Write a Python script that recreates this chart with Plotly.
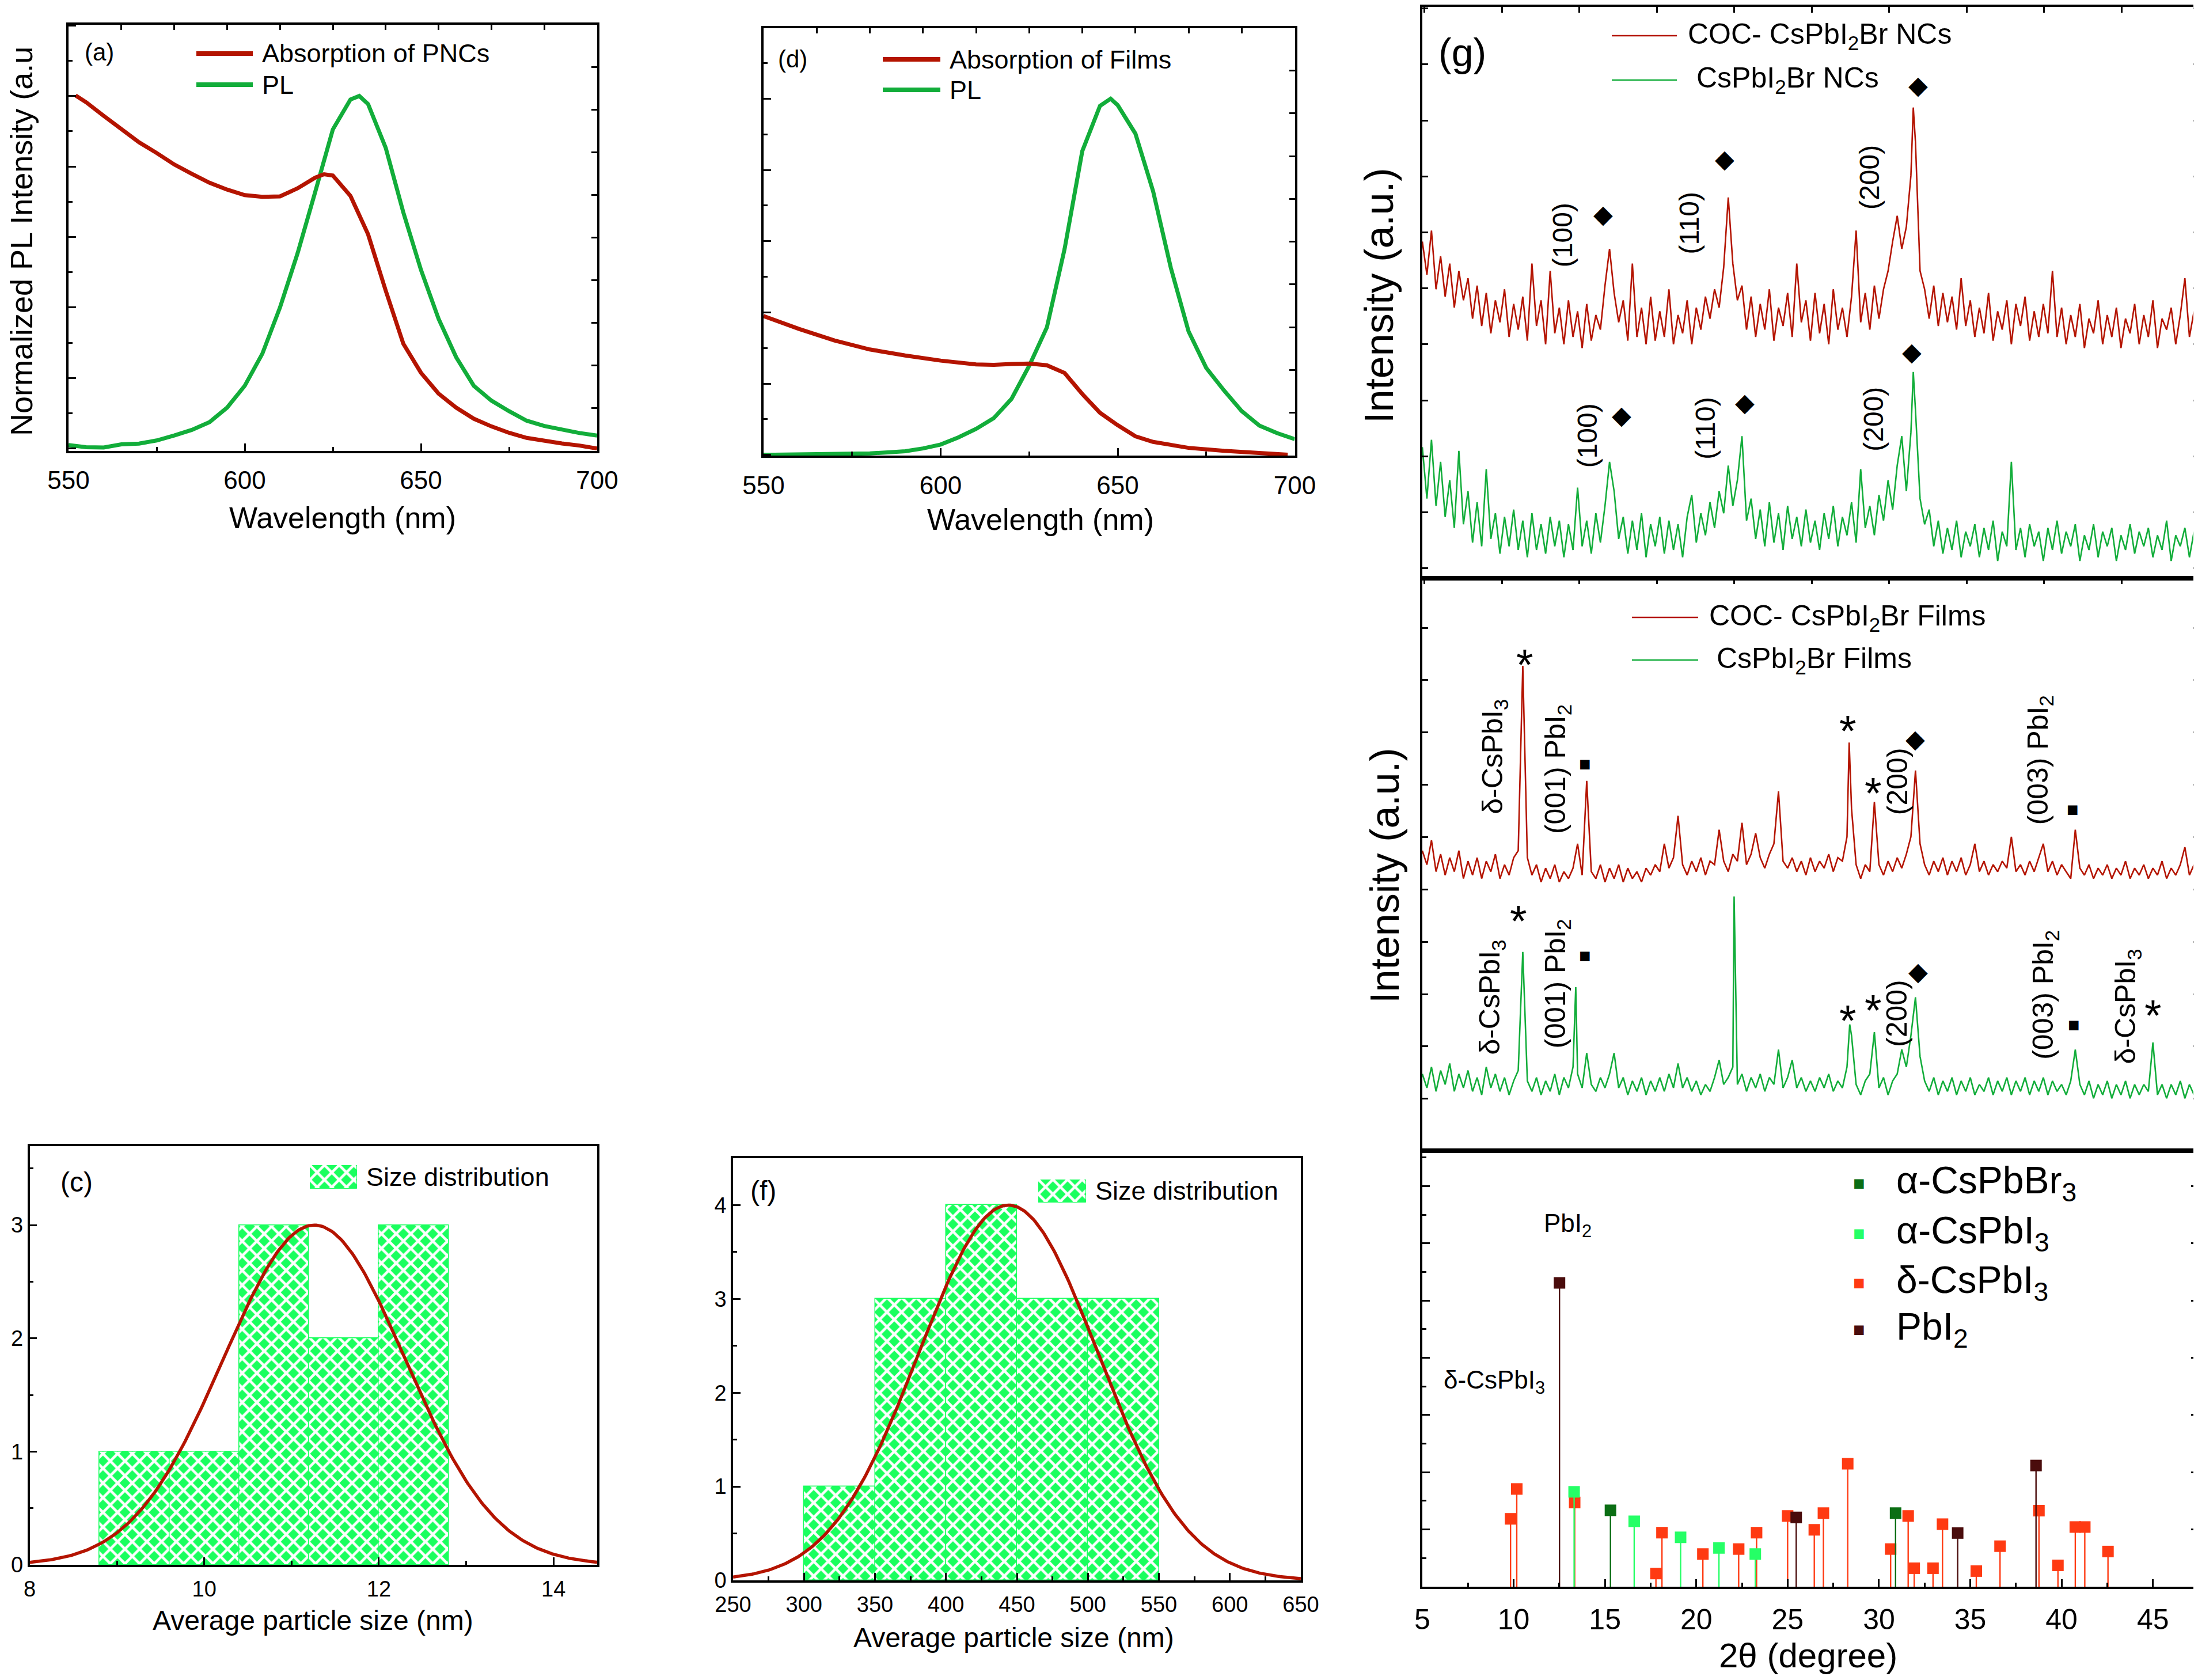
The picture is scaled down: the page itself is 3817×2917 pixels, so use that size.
import numpy as np
import plotly.graph_objects as go

W, H = 3817, 2917
FONT = "Liberation Sans, Arial, Helvetica, sans-serif"
RED = "#b41400"
GREEN = "#12ad3a"
BAR_GREEN = "#1aff5e"

# ---------------- (a) PNCs : absorption + PL ----------------
pnc_abs_nm = [552, 555, 560, 565, 570, 575, 580, 585, 590, 595, 600, 605, 610, 615, 620, 622.5,
              625, 630, 635, 640, 645, 650, 655, 660, 665, 670, 675, 680, 685, 690, 695, 700]
pnc_abs = [0.834, 0.818, 0.786, 0.756, 0.724, 0.699, 0.672, 0.650, 0.629, 0.613, 0.600, 0.596,
           0.597, 0.616, 0.641, 0.649, 0.646, 0.598, 0.508, 0.376, 0.251, 0.183, 0.134, 0.101,
           0.075, 0.057, 0.042, 0.030, 0.023, 0.017, 0.012, 0.005]
pnc_pl_nm = [550, 555, 560, 565, 570, 575, 580, 585, 590, 595, 600, 605, 610, 615, 620, 625, 630,
             632.5, 635, 640, 645, 650, 655, 660, 665, 670, 675, 680, 685, 690, 695, 700]
pnc_pl = [0.010, 0.004, 0.003, 0.012, 0.014, 0.023, 0.037, 0.053, 0.075, 0.116, 0.178, 0.269,
          0.400, 0.554, 0.728, 0.905, 0.990, 1.000, 0.977, 0.853, 0.670, 0.507, 0.368, 0.259,
          0.178, 0.136, 0.106, 0.079, 0.064, 0.054, 0.044, 0.037]

# ---------------- (d) Films : absorption + PL ----------------
film_abs_nm = [550, 560, 570, 580, 590, 600, 610, 615, 620, 625, 630, 635, 640, 645, 650, 655,
               660, 670, 680, 690, 698]
film_abs = [0.326, 0.296, 0.269, 0.248, 0.234, 0.222, 0.213, 0.212, 0.214, 0.215, 0.211, 0.193,
            0.144, 0.100, 0.071, 0.045, 0.032, 0.018, 0.011, 0.006, 0.002]
film_pl_nm = [550, 560, 570, 580, 585, 590, 595, 600, 605, 610, 615, 620, 625, 630, 635, 640,
              645, 648, 650, 655, 660, 665, 670, 675, 680, 685, 690, 695, 700]
film_pl = [0.000, 0.001, 0.002, 0.004, 0.007, 0.010, 0.018, 0.029, 0.049, 0.073, 0.103, 0.157,
           0.250, 0.358, 0.578, 0.853, 0.980, 1.000, 0.982, 0.902, 0.740, 0.525, 0.347, 0.244,
           0.181, 0.123, 0.082, 0.061, 0.044]

# ---------------- (c) / (f) size histograms ----------------
pnc_bin_centers = [9.2, 10.0, 10.8, 11.6, 12.4]
pnc_bin_width = 0.8
pnc_counts = [1, 1, 3, 2, 3]
pnc_fit = {"mean": 11.26, "sigma": 1.04, "amp": 3.0}

film_bin_centers = [325, 375, 425, 475, 525]
film_bin_width = 50
film_counts = [1, 3, 4, 3, 3]
film_fit = {"mean": 444, "sigma": 63, "amp": 4.0}

# ---------------- (g) XRD scans, 2theta step 0.25 from 5 deg ----------------
TT_START, TT_STEP = 5.0, 0.25
nc_coc = [92, 83, 95, 79, 88,
          77, 86, 74, 84, 76, 82, 71, 80,
          69, 78, 67, 76, 70, 79, 66, 75,
          68, 77, 65, 86, 69, 76, 64, 84,
          67, 74, 64, 76, 66, 73, 63, 75,
          65, 72, 68, 80,
          90, 78, 70, 76, 65, 86, 66, 74, 64, 77, 65, 73, 66, 79, 64, 72, 67, 76, 64, 74,
          68, 77, 71, 79, 74, 85, 104, 86, 76, 80, 68, 77, 66, 75, 68, 79, 65, 74, 69, 78,
          66, 86, 70, 76, 65, 78, 67, 75, 64, 79, 68, 74, 66, 77, 95, 70, 78, 68, 80, 71,
          79, 84, 92, 99, 90, 96, 110, 119, 84, 79, 71, 80, 69, 78, 70, 77, 68, 82, 69, 76,
          66, 74, 67, 78, 65, 73, 68, 76, 64, 75, 69, 77, 65, 73, 66, 75, 67, 84, 66, 74,
          64, 72, 66, 75, 63, 71, 67, 76, 64, 72, 66, 74, 63, 71, 67, 75, 64, 72, 66, 76,
          63, 71, 68, 74, 64, 72, 82, 66, 73, 67]
nc_coc_peaks = [(31.88, 128.5)]
nc_bare = [36, 22, 38, 20, 32,
           17, 27, 14, 35, 15, 24, 10, 21,
           9, 30, 11, 18, 7, 17, 9, 19,
           8, 16, 6, 18, 8, 15, 7, 17,
           9, 16, 6, 15, 8, 25, 9, 16,
           7, 18, 10, 20,
           32, 24, 11, 17, 7, 16, 8, 18, 6, 15, 9, 17, 7, 16, 8, 15, 6, 17, 23, 10,
           18, 12, 21, 14, 24, 18, 31, 20, 27, 39, 16, 22, 11, 19, 9, 21, 10, 18, 8, 20,
           11, 17, 9, 19, 10, 16, 8, 18, 11, 20, 9, 17, 12, 21, 10, 30, 14, 20, 12, 23,
           16, 27, 19, 31, 39, 24, 40, 46, 22, 15, 19, 9, 16, 7, 14, 8, 16, 6, 13, 9,
           15, 6, 14, 8, 16, 5, 13, 9, 32, 8, 14, 6, 15, 9, 13, 5, 14, 8, 16, 7,
           13, 9, 15, 5, 12, 8, 15, 6, 13, 9, 14, 5, 12, 8, 15, 7, 13, 9, 14, 6,
           12, 8, 16, 5, 12, 9, 14, 6, 13, 8]
nc_bare_peaks = [(31.88, 56.5)]
film_coc = [86, 82, 89, 80, 85,
            79, 84, 80, 86, 78, 83, 79, 84,
            78, 83, 80, 85, 78, 82, 79, 84,
            86, 139, 84, 79, 82, 77, 81, 78,
            82, 77, 80, 78, 81, 88, 79, 106,
            80, 78, 82, 77,
            81, 78, 82, 77, 81, 78, 80, 77, 81, 79, 82, 80, 88, 81, 84, 96, 82, 79, 83, 80,
            84, 79, 83, 82, 92, 83, 80, 85, 83, 94, 82, 85, 91, 84, 81, 85, 88, 103, 83, 81,
            84, 80, 83, 79, 84, 80, 83, 81, 85, 80, 84, 83, 90, 98, 82, 78, 82, 80, 100, 82,
            79, 83, 80, 84, 81, 85, 90, 109, 88, 82, 79, 83, 80, 84, 79, 83, 80, 84, 79, 82,
            88, 80, 83, 79, 82, 80, 83, 81, 90, 80, 82, 79, 83, 80, 84, 88, 80, 83, 79, 82,
            80, 78, 92, 81, 79, 82, 78, 81, 79, 82, 78, 81, 79, 83, 78, 81, 79, 82, 78, 81,
            79, 83, 78, 81, 79, 82, 87, 79, 82, 80]
film_coc_peaks = [(28.37, 117.0)]
film_bare = [22, 18, 24, 17, 23,
             19, 25, 17, 22, 18, 23, 17, 21,
             16, 24, 18, 22, 17, 21, 16, 20,
             23, 57, 20, 17, 21, 16, 20, 17,
             22, 16, 21, 18, 24, 22, 18, 28,
             19, 17, 21, 18,
             22, 28, 18, 21, 16, 20, 17, 21, 16, 20, 17, 21, 17, 22, 18, 25, 18, 21, 17, 20,
             16, 19, 17, 21, 26, 19, 21, 24, 19, 22, 17, 21, 18, 22, 17, 21, 19, 29, 18, 21,
             26, 18, 21, 17, 20, 17, 21, 18, 22, 17, 20, 18, 24, 33, 19, 16, 20, 22, 34, 18,
             21, 16, 20, 22, 29, 24, 33, 44, 27, 20, 17, 21, 16, 20, 17, 21, 16, 20, 17, 21,
             16, 19, 17, 21, 16, 20, 17, 21, 16, 20, 17, 21, 16, 20, 17, 21, 16, 20, 17, 19,
             16, 20, 29, 19, 16, 20, 15, 19, 16, 20, 15, 19, 16, 20, 15, 19, 16, 19, 17, 31,
             16, 19, 15, 19, 16, 20, 15, 19, 16, 19]
film_bare_peaks = [(13.4, 46.9), (22.07, 72.9), (28.4, 36.2)]

# reference patterns (stick positions / relative heights)
ref_delta_i3_tt = [9.83, 10.17, 13.34, 17.79, 18.12, 20.36, 22.32, 23.30, 25.00, 26.46, 26.96,
                   28.29, 30.64, 31.60, 31.93, 32.96, 33.48, 35.33, 36.63, 38.76, 39.80, 40.75,
                   41.27, 42.54]
ref_delta_i3_int = [11.86, 17.08, 14.72, 2.30, 9.44, 5.71, 6.58, 9.44, 12.36, 9.94, 12.86, 21.49,
                    6.58, 12.36, 3.23, 3.23, 10.93, 2.73, 7.08, 13.29, 3.73, 10.43, 10.43, 6.15]
ref_alpha_i3_tt = [13.31, 16.60, 19.14, 21.24, 23.23]
ref_alpha_i3_int = [16.58, 11.43, 8.63, 6.77, 5.71]
ref_alpha_br3_tt = [15.30, 30.91]
ref_alpha_br3_int = [13.35, 12.86]
ref_pbi2_tt = [12.51, 25.47, 34.31, 38.60]
ref_pbi2_int = [53.1, 12.11, 9.38, 21.18]


def px(x):
    return x / W


def py(y):
    return 1 - y / H


def scan(values, peaks):
    pts = [(TT_START + TT_STEP * i, v) for i, v in enumerate(values)] + list(peaks)
    pts.sort()
    return [p[0] for p in pts], [p[1] for p in pts]


def gauss_curve(fit, lo, hi):
    x = np.linspace(lo, hi, 300)
    return x, fit["amp"] * np.exp(-(x - fit["mean"]) ** 2 / (2 * fit["sigma"] ** 2))


def axis(**kw):
    d = dict(showline=True, linecolor="black", linewidth=3.5, ticks="inside", tickcolor="black",
             tickwidth=3, ticklen=13, showgrid=False, zeroline=False, automargin=False,
             tickfont=dict(family=FONT, size=44, color="black"))
    d.update(kw)
    return d


def minor(dt, ln=7):
    return dict(dtick=dt, ticks="inside", ticklen=ln, tickwidth=3, tickcolor="black", showgrid=False)


fig = go.Figure()

# (a)
fig.add_trace(go.Scatter(x=pnc_pl_nm, y=pnc_pl, mode="lines", line=dict(color=GREEN, width=7),
                         xaxis="x", yaxis="y"))
fig.add_trace(go.Scatter(x=pnc_abs_nm, y=pnc_abs, mode="lines", line=dict(color=RED, width=7),
                         xaxis="x2", yaxis="y2"))
# (d)
fig.add_trace(go.Scatter(x=film_pl_nm, y=film_pl, mode="lines", line=dict(color=GREEN, width=7),
                         xaxis="x3", yaxis="y3"))
fig.add_trace(go.Scatter(x=film_abs_nm, y=film_abs, mode="lines", line=dict(color=RED, width=7),
                         xaxis="x4", yaxis="y4"))

pattern = dict(shape="x", fgcolor="white", bgcolor=BAR_GREEN, size=18, solidity=0.45)
# (c)
fig.add_trace(go.Bar(x=pnc_bin_centers, y=pnc_counts, width=pnc_bin_width,
                     marker=dict(color=BAR_GREEN, pattern=pattern, line=dict(color=BAR_GREEN, width=1.5)),
                     xaxis="x5", yaxis="y5"))
gx, gy = gauss_curve(pnc_fit, 8, 14.5)
fig.add_trace(go.Scatter(x=gx, y=gy, mode="lines", line=dict(color=RED, width=5.5), xaxis="x5", yaxis="y5"))
# (f)
fig.add_trace(go.Bar(x=film_bin_centers, y=film_counts, width=film_bin_width,
                     marker=dict(color=BAR_GREEN, pattern=pattern, line=dict(color=BAR_GREEN, width=1.5)),
                     xaxis="x6", yaxis="y6"))
gx, gy = gauss_curve(film_fit, 250, 650)
fig.add_trace(go.Scatter(x=gx, y=gy, mode="lines", line=dict(color=RED, width=5.5), xaxis="x6", yaxis="y6"))
# legend swatches for the histograms
for xa, ya in (("x11", "y11"), ("x12", "y12")):
    fig.add_trace(go.Bar(x=[0.5], y=[1], width=1,
                         marker=dict(color=BAR_GREEN, pattern=pattern, line=dict(color=BAR_GREEN, width=1)),
                         xaxis=xa, yaxis=ya))

# (g) XRD
for vals, pk, col, xa, ya in ((nc_coc, nc_coc_peaks, RED, "x7", "y7"),
                              (nc_bare, nc_bare_peaks, GREEN, "x7", "y7"),
                              (film_coc, film_coc_peaks, RED, "x8", "y8"),
                              (film_bare, film_bare_peaks, GREEN, "x8", "y8")):
    sx, sy = scan(vals, pk)
    fig.add_trace(go.Scatter(x=sx, y=sy, mode="lines", line=dict(color=col, width=2.6),
                             xaxis=xa, yaxis=ya))

ref_sets = [(ref_delta_i3_tt, ref_delta_i3_int, "#ff3a12"),
            (ref_alpha_i3_tt, ref_alpha_i3_int, "#25ff66"),
            (ref_alpha_br3_tt, ref_alpha_br3_int, "#0b6e14"),
            (ref_pbi2_tt, ref_pbi2_int, "#4a0c0c")]
for tt, inten, col in ref_sets:
    lx, ly = [], []
    for t, v in zip(tt, inten):
        lx += [t, t, None]
        ly += [0, v, None]
    fig.add_trace(go.Scatter(x=lx, y=ly, mode="lines", line=dict(color=col, width=2.4),
                             xaxis="x9", yaxis="y9"))
    fig.add_trace(go.Scatter(x=tt, y=inten, mode="markers",
                             marker=dict(symbol="square", size=20, color=col),
                             xaxis="x9", yaxis="y9"))

# ---------------- axes ----------------
G_LEFT, G_RIGHT = 2462, 3810
GX = [px(G_LEFT), px(G_RIGHT)]
SMALL = dict(family=FONT, size=38, color="black")
lay = dict(
    xaxis=axis(domain=[px(111), px(1029)], anchor="y", range=[550, 700], tick0=550, dtick=50,
               minor=minor(25), ticklabelstandoff=10),
    xaxis2=axis(overlaying="x", side="top", anchor="y", range=[550, 700], tick0=550, dtick=15,
                ticklen=9, showticklabels=False),
    yaxis=axis(domain=[py(774.5), py(35)], anchor="x", range=[-0.006, 1.202], tick0=0, dtick=0.2,
               minor=minor(0.1), showticklabels=False),
    yaxis2=axis(overlaying="y", side="right", anchor="x", range=[0, 1.0], tick0=0, dtick=0.1,
                ticklen=10, showticklabels=False),
    xaxis3=axis(domain=[px(1318), px(2240.5)], anchor="y3", range=[550, 700], tick0=550, dtick=50,
                minor=minor(25), ticklabelstandoff=10),
    xaxis4=axis(overlaying="x3", side="top", anchor="y3", range=[550, 700], tick0=550, dtick=15,
                ticklen=9, showticklabels=False),
    yaxis3=axis(domain=[py(783), py(41)], anchor="x3", range=[-0.002, 1.198], tick0=0, dtick=0.2,
                minor=minor(0.1), showticklabels=False),
    yaxis4=axis(overlaying="y3", side="right", anchor="x3", range=[0, 0.999], tick0=0, dtick=0.1,
                ticklen=10, showticklabels=False),
    xaxis5=axis(domain=[px(43.5), px(1029)], anchor="y5", range=[8, 14.5], tick0=8, dtick=2,
                minor=minor(1), mirror=True, tickfont=SMALL, ticklabelstandoff=6),
    yaxis5=axis(domain=[py(2709), py(1981.5)], anchor="x5", range=[0, 3.7], tick0=0, dtick=1,
                minor=minor(0.5), mirror=True, tickfont=SMALL),
    xaxis6=axis(domain=[px(1265), px(2251)], anchor="y6", range=[250, 650], tick0=250, dtick=50,
                minor=minor(25), mirror=True, tickfont=SMALL, ticklabelstandoff=6),
    yaxis6=axis(domain=[py(2736), py(2003)], anchor="x6", range=[0, 4.5], tick0=0, dtick=1,
                minor=minor(0.5), mirror=True, tickfont=SMALL),
    xaxis7=axis(domain=GX, anchor="y7", side="top", range=[5, 47.5], tick0=5.12, dtick=4.24,
                ticklen=10, mirror=True, linewidth=4, showticklabels=False),
    yaxis7=axis(domain=[py(996), py(4)], anchor="x7", range=[0.3, 155.9], tick0=3, dtick=15.25,
                ticklen=10, mirror="ticks", linewidth=4, showticklabels=False),
    xaxis8=axis(domain=GX, anchor="y8", side="top", range=[5, 47.5], tick0=5.12, dtick=4.24,
                ticklen=10, mirror=True, linewidth=4, showticklabels=False),
    yaxis8=axis(domain=[py(1990), py(996)], anchor="x8", range=[0, 164.1], tick0=-0.1, dtick=15,
                ticklen=10, mirror="ticks", linewidth=4, showticklabels=False),
    xaxis9=axis(domain=GX, anchor="y9", range=[5, 47.5], tick0=5, dtick=5, minor=minor(2.5),
                mirror=True, linewidth=4, tickfont=dict(family=FONT, size=50, color="black"),
                ticklabelstandoff=10),
    yaxis9=axis(domain=[py(2747), py(1990)], anchor="x9", range=[0, 76.2], tick0=0, dtick=10,
                minor=minor(5), ticklen=13, mirror="ticks", linewidth=4, showticklabels=False),
    xaxis11=dict(domain=[px(530), px(612)], anchor="y11", range=[0, 1], visible=False, automargin=False),
    yaxis11=dict(domain=[py(2056), py(2015)], anchor="x11", range=[0, 1], visible=False, automargin=False),
    xaxis12=dict(domain=[px(1795), px(1878)], anchor="y12", range=[0, 1], visible=False, automargin=False),
    yaxis12=dict(domain=[py(2080), py(2040)], anchor="x12", range=[0, 1], visible=False, automargin=False),
)

# ---------------- text ----------------
ann = []


def txt(text, x, y, size, xref="paper", yref="paper", xanchor="center", yanchor="middle",
        angle=0, color="black", yshift=0):
    ann.append(dict(text=text, x=x, y=y, xref=xref, yref=yref, xanchor=xanchor, yanchor=yanchor,
                    textangle=angle, showarrow=False, yshift=yshift,
                    font=dict(family=FONT, size=size, color=color)))


# panel letters / axis titles
txt("(a)", px(137), py(82), 42, xanchor="left")
txt("(d)", px(1341), py(94), 42, xanchor="left")
txt("(c)", px(95), py(2044), 48, xanchor="left")
txt("(f)", px(1293), py(2059), 48, xanchor="left")
txt("(g)", px(2488), py(83), 68, xanchor="left")
txt("Normalized PL Intensity (a.u", px(29), py(411), 54, angle=-90)
txt("Wavelength (nm)", px(587), py(891), 52)
txt("Wavelength (nm)", px(1799), py(894), 52)
txt("Average particle size (nm)", px(535), py(2805), 48)
txt("Average particle size (nm)", px(1752), py(2835), 48)
txt("2θ (degree)", px(3132), py(2866), 60)
txt("Intensity (a.u.)", px(2387), py(505), 70, angle=-90)
txt("Intensity (a.u.)", px(2397), py(1512), 70, angle=-90)

# legends drawn by hand
shapes = []


def leg_line(x0, x1, y, color, width):
    shapes.append(dict(type="line", xref="paper", yref="paper", x0=px(x0), x1=px(x1),
                       y0=py(y), y1=py(y), line=dict(color=color, width=width)))


# right-hand frame edge of the reference-pattern panel
shapes.append(dict(type="line", xref="paper", yref="paper", x0=px(G_RIGHT - 3), x1=px(G_RIGHT - 3),
                   y0=py(2749), y1=py(1988), line=dict(color="black", width=5), layer="above"))

leg_line(333, 431, 85, RED, 8)
leg_line(333, 431, 139, GREEN, 8)
txt("Absorption of PNCs", px(445), py(85), 45, xanchor="left")
txt("PL", px(445), py(139), 45, xanchor="left")
leg_line(1525, 1625, 95, RED, 8)
leg_line(1525, 1625, 148, GREEN, 8)
txt("Absorption of Films", px(1639), py(95), 45, xanchor="left")
txt("PL", px(1639), py(148), 45, xanchor="left")
txt("Size distribution", px(626), py(2035), 45, xanchor="left")
txt("Size distribution", px(1892), py(2059), 45, xanchor="left")

leg_line(2791, 2904, 54, RED, 2.5)
leg_line(2791, 2904, 131, GREEN, 2.5)
txt("COC- CsPbI<sub>2</sub>Br NCs", px(2921), py(54), 50, xanchor="left")
txt("CsPbI<sub>2</sub>Br NCs", px(2936), py(131), 50, xanchor="left")
leg_line(2826, 2941, 1064, RED, 2.5)
leg_line(2826, 2941, 1138, GREEN, 2.5)
txt("COC- CsPbI<sub>2</sub>Br Films", px(2958), py(1064), 50, xanchor="left")
txt("CsPbI<sub>2</sub>Br Films", px(2971), py(1138), 50, xanchor="left")

# NC XRD labels
for s, x, y in (("(100)", 12.68, 93.7), ("(110)", 19.6, 97), ("(200)", 29.5, 109.5),
                ("(100)", 14.06, 39.2), ("(110)", 20.5, 41.2), ("(200)", 29.7, 43.7)):
    txt(s, x, y, 48, xref="x7", yref="y7", angle=-90)
for x, y in ((14.9, 99.5), (21.55, 114.5), (32.15, 134.7), (15.9, 44.7), (22.65, 48.2), (31.8, 62)):
    txt("◆", x, y, 44, xref="x7", yref="y7")

# Film XRD labels
D3 = "δ-CsPbI<sub>3</sub>"
P2 = "(001) PbI<sub>2</sub>"
P3 = "(003) PbI<sub>2</sub>"
for s, x, y in ((D3, 8.95, 113), (P2, 12.4, 109.4), ("(200)", 31.0, 105.9), (P3, 38.8, 111.9),
                (D3, 8.8, 43.9), (P2, 12.4, 47.9), ("(200)", 31.0, 39.4), (P3, 39.1, 44.7),
                (D3, 43.6, 41.4)):
    txt(s, x, y, 50, xref="x8", yref="y8", angle=-90)
for x, y in ((10.6, 142.4), (28.3, 123.4), (29.7, 105.6), (10.28, 68.9), (28.3, 40.4),
             (29.7, 43.4), (45.0, 41.9)):
    txt("*", x, y, 76, xref="x8", yref="y8", yshift=-18)
for x, y in ((13.9, 111), (40.6, 97.9), (13.9, 55.9), (40.66, 36.2)):
    txt("■", x, y, 34, xref="x8", yref="y8")
for x, y in ((32.0, 118.2), (32.15, 51.4)):
    txt("◆", x, y, 44, xref="x8", yref="y8")

# reference panel labels + legend
txt("PbI<sub>2</sub>", 12.96, 63.2, 44, xref="x9", yref="y9")
txt("δ-CsPbI<sub>3</sub>", 8.95, 35.8, 44, xref="x9", yref="y9")
ref_names = ["α-CsPbBr<sub>3</sub>", "α-CsPbI<sub>3</sub>", "δ-CsPbI<sub>3</sub>", "PbI<sub>2</sub>"]
ref_cols = ["#0b6e14", "#25ff66", "#ff3a12", "#4a0c0c"]
for name, col, y in zip(ref_names, ref_cols, (70.6, 61.8, 53.1, 45.0)):
    txt("■", 28.9, y, 34, xref="x9", yref="y9", color=col)
    txt(name, 30.9, y, 66, xref="x9", yref="y9", xanchor="left")

fig.update_layout(
    template="none",
    width=W, height=H, autosize=False, showlegend=False,
    margin=dict(l=0, r=0, t=0, b=0, pad=0),
    paper_bgcolor="white", plot_bgcolor="rgba(0,0,0,0)",
    font=dict(family=FONT, color="black"),
    annotations=ann, shapes=shapes, bargap=0,
    **lay,
)

fig.write_html("out.html")
